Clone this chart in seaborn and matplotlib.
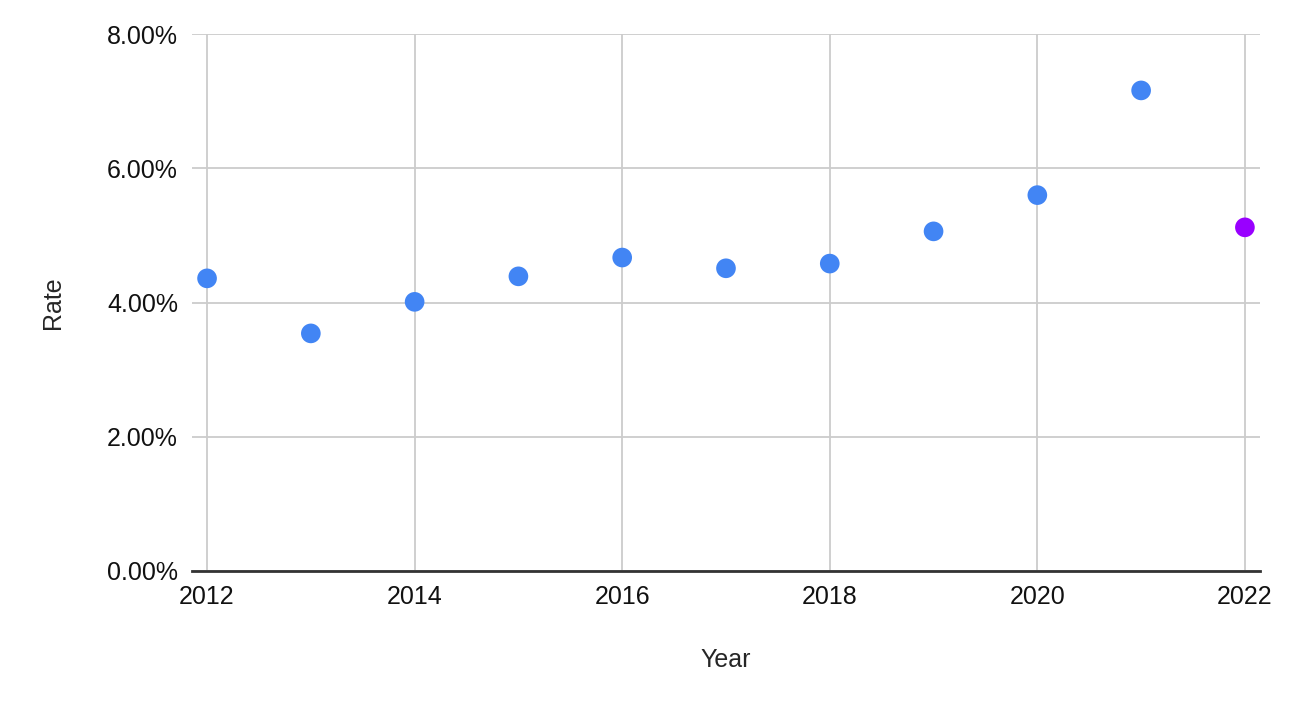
import seaborn as sns
import matplotlib.pyplot as plt
import pandas as pd
from matplotlib.ticker import PercentFormatter

# data
years = [2012, 2013, 2014, 2015, 2016, 2017, 2018, 2019, 2020, 2021, 2022]
rates = [4.36, 3.54, 4.01, 4.39, 4.67, 4.51, 4.58, 5.06, 5.60, 7.16, 5.12]
groups = ["past"] * 10 + ["current"]

df = pd.DataFrame({"Year": years, "Rate": rates, "group": groups})

sns.set_style("white")
plt.rcParams["font.family"] = ["Liberation Sans", "DejaVu Sans"]

fig = plt.figure(figsize=(13, 7.15), dpi=100)
ax = fig.add_axes([0.1477, 0.2014, 0.8215, 0.751])

sns.scatterplot(data=df, x="Year", y="Rate", hue="group",
                palette={"past": "#4285F4", "current": "#9900FF"},
                s=200, edgecolor="none", legend=False, ax=ax, zorder=3)

ax.set_xlim(2011.855, 2022.145)
ax.set_ylim(0, 8)
ax.set_xticks(range(2012, 2023, 2))
ax.set_yticks([0, 2, 4, 6, 8])
ax.yaxis.set_major_formatter(PercentFormatter(decimals=2))
ax.grid(True, color="#cccccc", linewidth=1.3)
ax.set_axisbelow(True)

for side in ["top", "right", "left"]:
    ax.spines[side].set_visible(False)
ax.spines["bottom"].set_color("#333333")
ax.spines["bottom"].set_linewidth(2)
ax.spines["bottom"].set_zorder(2)

ax.tick_params(axis="both", length=0, labelsize=18, colors="#111111")
ax.tick_params(axis="x", pad=10)
ax.tick_params(axis="y", pad=10)
ax.set_xlabel("Year", fontsize=18, labelpad=28)
ax.set_ylabel("Rate", fontsize=18, labelpad=30)

fig.savefig("out.png", dpi=100)
